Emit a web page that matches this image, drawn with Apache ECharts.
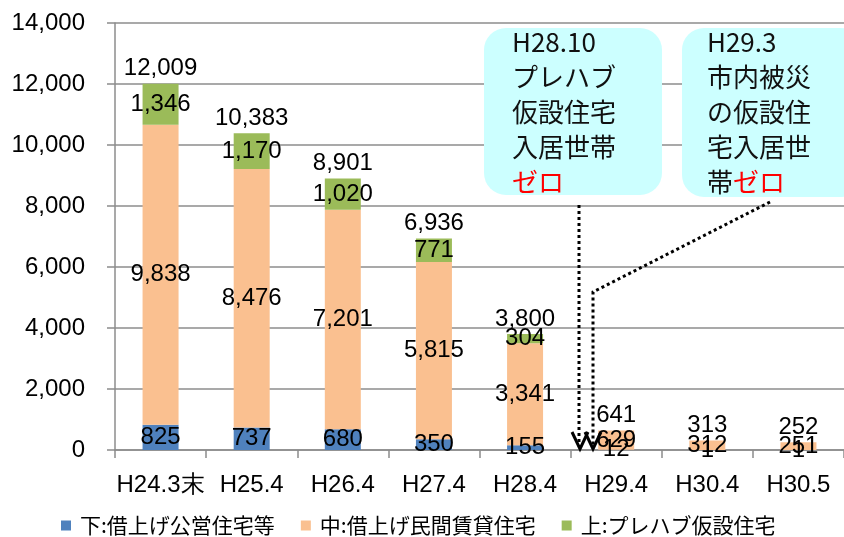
<!DOCTYPE html>
<html><head><meta charset="utf-8">
<script src="https://cdn.jsdelivr.net/npm/echarts@6/dist/echarts.min.js"></script>
<style>html,body{margin:0;padding:0;background:#fff}#c{width:844px;height:537px}</style>
</head><body><div id="c"></div>
<script>
var categories = ['H24.3末','H25.4','H26.4','H27.4','H28.4','H29.4','H30.4','H30.5'];
var lowerPublic = [825,737,680,350,155,12,1,1];
var middlePrivate = [9838,8476,7201,5815,3341,629,312,251];
var upperPrefab = [1346,1170,1020,771,304,0,0,0];
var seriesNames = ['下:借上げ公営住宅等','中:借上げ民間賃貸住宅','上:プレハブ仮設住宅'];
var yTicks = {min:0, max:14000, interval:2000};

var totals = categories.map(function(_, i){ return lowerPublic[i] + middlePrivate[i] + upperPrefab[i]; });
function fmt(v){ return String(v).replace(/\B(?=(\d{3})+(?!\d))/g, ','); }
var FONT = "'Liberation Sans', Arial, sans-serif";
var CJK = "'Noto Sans CJK JP', sans-serif";
var FS = 24;
var labelStyle = {show:true, position:'inside', color:'#000', fontSize:FS, fontFamily:FONT,
  formatter:function(p){ return p.value ? fmt(p.value) : ''; }};

var chart = echarts.init(document.getElementById('c'));
chart.setOption({
  animation:false,
  grid:{left:115, top:23, width:736, height:427, containLabel:false},
  legend:{data:seriesNames, left:56, top:510, itemWidth:10, itemHeight:10, itemGap:26,
    icon:'rect', textStyle:{fontSize:21, fontFamily:CJK, color:'#000', padding:[0,0,0,4]}},
  xAxis:{type:'category', data:categories,
    axisLine:{lineStyle:{color:'#8c8c8c', width:1.5}},
    axisTick:{show:true, length:8, lineStyle:{color:'#8c8c8c', width:1.5}},
    axisLabel:{interval:0, fontSize:FS, fontFamily:FONT, color:'#000', margin:23}},
  yAxis:{type:'value', min:yTicks.min, max:yTicks.max, interval:yTicks.interval,
    axisLine:{show:true, lineStyle:{color:'#8c8c8c', width:1.5}},
    axisTick:{show:true, length:8, lineStyle:{color:'#8c8c8c', width:1.5}},
    splitLine:{lineStyle:{color:'#8c8c8c', width:1.5}},
    axisLabel:{fontSize:FS, fontFamily:FONT, color:'#000', margin:30, formatter:fmt}},
  series:[
    {name:seriesNames[0], type:'bar', stack:'s', data:lowerPublic, barWidth:36,
      itemStyle:{color:'#4F81BD'}, label:labelStyle},
    {name:seriesNames[1], type:'bar', stack:'s', data:middlePrivate, barWidth:36,
      itemStyle:{color:'#FAC090'}, label:labelStyle},
    {name:seriesNames[2], type:'bar', stack:'s', data:upperPrefab, barWidth:36,
      itemStyle:{color:'#9BBB59'}, label:labelStyle},
    {name:'total', type:'bar', data:totals, barWidth:36, barGap:'-100%',
      itemStyle:{color:'rgba(0,0,0,0)'}, z:1,
      label:{show:true, position:'top', distance:3, color:'#000', fontSize:FS, fontFamily:FONT,
        formatter:function(p){ return fmt(p.value); }}}
  ],
  graphic:[
    {type:'rect', z:100, shape:{x:484, y:28, width:178, height:167, r:22}, style:{fill:'#CCFFFF'}},
    {type:'rect', z:100, shape:{x:682, y:28, width:180, height:169, r:22}, style:{fill:'#CCFFFF'}},
    {type:'text', z:101, left:512, top:25, style:{
      text:'H28.10\nプレハブ\n仮設住宅\n入居世帯\n{r|ゼロ}',
      font:'26px ' + CJK, fill:'#111', lineHeight:35,
      rich:{r:{fill:'#ff0000', font:'26px ' + CJK, lineHeight:35}}}},
    {type:'text', z:101, left:707, top:25, style:{
      text:'H29.3\n市内被災\nの仮設住\n宅入居世\n帯{r|ゼロ}',
      font:'26px ' + CJK, fill:'#111', lineHeight:35,
      rich:{r:{fill:'#ff0000', font:'26px ' + CJK, lineHeight:35}}}},
    {type:'polyline', z:102, shape:{points:[[579,205],[579,446]]},
      style:{stroke:'#000', lineWidth:3, lineDash:[3,3], fill:null}},
    {type:'polyline', z:102, shape:{points:[[770,202],[593,292],[593,446]]},
      style:{stroke:'#000', lineWidth:3, lineDash:[3,3], fill:null}},
    {type:'polyline', z:103, shape:{points:[[572,432],[580,449],[588,432]]},
      style:{stroke:'#000', lineWidth:3, fill:null}},
    {type:'polyline', z:103, shape:{points:[[585,432],[593,449],[601,432]]},
      style:{stroke:'#000', lineWidth:3, fill:null}}
  ]
});
</script></body></html>
